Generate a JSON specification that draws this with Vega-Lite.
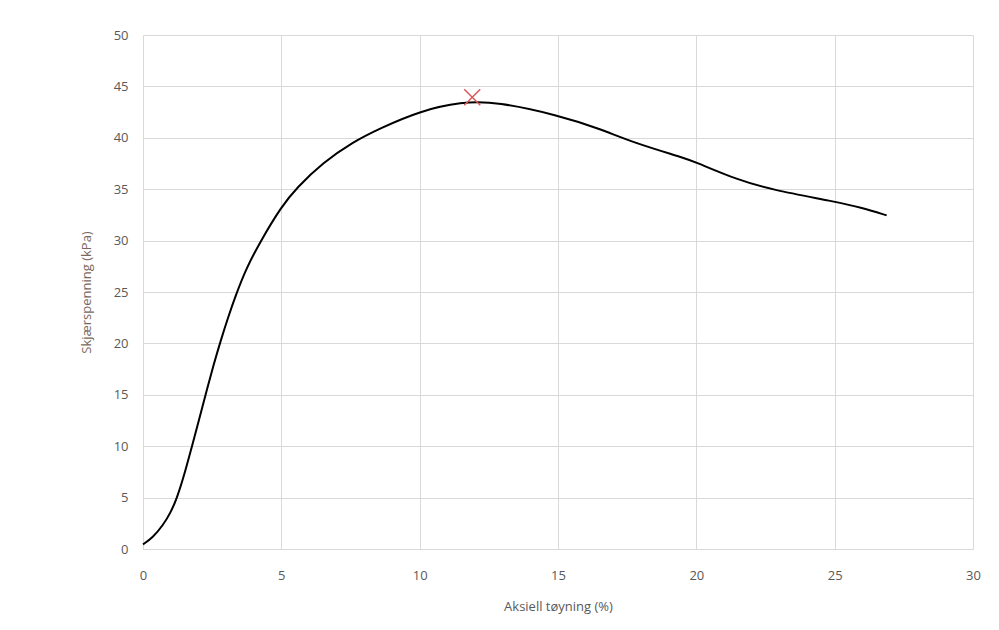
{
  "$schema": "https://vega.github.io/schema/vega-lite/v6.json",
  "width": 830,
  "height": 514,
  "autosize": {"type": "none"},
  "padding": {"left": 143, "top": 35, "right": 26, "bottom": 81},
  "background": "white",
  "config": {
    "view": {"stroke": null},
    "axis": {
      "labelFont": "Open Sans",
      "titleFont": "Open Sans",
      "labelFontSize": 13,
      "titleFontSize": 13,
      "titleFontWeight": "normal",
      "labelColor": "#595959",
      "titleColor": "#595959",
      "gridColor": "#d9d9d9",
      "domainColor": "#d9d9d9",
      "ticks": false,
      "labelFlush": false
    }
  },
  "datasets": {
    "curve": [
      {"x": 0.0, "y": 0.45},
      {"x": 0.0, "y": 0.45},
      {"x": 0.35, "y": 1.1},
      {"x": 0.72, "y": 2.3},
      {"x": 1.0, "y": 3.55},
      {"x": 1.22, "y": 4.9},
      {"x": 1.47, "y": 7.0},
      {"x": 1.75, "y": 9.8},
      {"x": 2.05, "y": 12.8},
      {"x": 2.3, "y": 15.4},
      {"x": 2.55, "y": 17.9},
      {"x": 2.8, "y": 20.2},
      {"x": 3.07, "y": 22.5},
      {"x": 3.37, "y": 24.8},
      {"x": 3.73, "y": 27.3},
      {"x": 4.28, "y": 30.1},
      {"x": 5.0, "y": 33.3},
      {"x": 5.54, "y": 35.1},
      {"x": 6.51, "y": 37.6},
      {"x": 7.59, "y": 39.6},
      {"x": 8.55, "y": 40.9},
      {"x": 10.0, "y": 42.6},
      {"x": 11.5, "y": 43.5},
      {"x": 12.8, "y": 43.5},
      {"x": 15.0, "y": 42.2},
      {"x": 16.5, "y": 40.9},
      {"x": 17.75, "y": 39.5},
      {"x": 19.62, "y": 38.0},
      {"x": 20.0, "y": 37.6},
      {"x": 21.5, "y": 35.9},
      {"x": 22.73, "y": 34.94},
      {"x": 25.0, "y": 33.8},
      {"x": 26.0, "y": 33.2},
      {"x": 26.88, "y": 32.45},
      {"x": 26.88, "y": 32.45}
    ],
    "peak": [{"x": 11.9, "y": 43.95}]
  },
  "layer": [
    {
      "data": {"name": "curve"},
      "mark": {"type": "line", "color": "#000000", "strokeWidth": 2, "interpolate": "basis"},
      "encoding": {
        "x": {
          "field": "x", "type": "quantitative",
          "scale": {"domain": [0, 30], "nice": false},
          "axis": {"values": [0, 5, 10, 15, 20, 25, 30], "title": "Aksiell tøyning (%)", "labelPadding": 20, "titlePadding": 18}
        },
        "y": {
          "field": "y", "type": "quantitative",
          "scale": {"domain": [0, 50], "nice": false},
          "axis": {"values": [0, 5, 10, 15, 20, 25, 30, 35, 40, 45, 50], "title": "Skjærspenning (kPa)", "labelPadding": 15, "titlePadding": 20, "titleColor": "#7a675c"}
        }
      }
    },
    {
      "data": {"name": "peak"},
      "mark": {"type": "point", "shape": "M-1,-1L1,1M1,-1L-1,1", "filled": false, "stroke": "#d9595a", "strokeWidth": 1.5, "size": 256, "opacity": 1},
      "encoding": {
        "x": {"field": "x", "type": "quantitative"},
        "y": {"field": "y", "type": "quantitative"}
      }
    }
  ]
}
